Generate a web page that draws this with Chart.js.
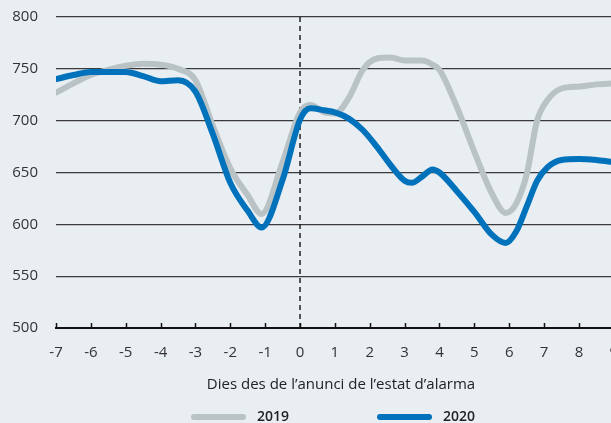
<!DOCTYPE html>
<html>
<head>
<meta charset="utf-8">
<script src="https://cdn.jsdelivr.net/npm/chart.js@4"></script>
<style>
  html, body { margin: 0; padding: 0; background: #e9eef3; overflow: hidden; }
  #wrap { width: 666px; height: 423px; }
</style>
</head>
<body>
<div id="wrap"><canvas id="chart" width="666" height="423"></canvas></div>
<script>
const days  = [-7, -6.5, -6, -5.5, -5, -4.5, -4, -3.5, -3, -2.5, -2, -1.5, -1.1, -0.5, 0, 0.3, 0.7, 1, 1.4, 1.8, 2.2, 2.6, 3, 3.2, 3.5, 3.8, 4, 4.5, 5, 5.5, 5.9, 6.2, 6.5, 6.8, 7.1, 7.5, 8, 8.5, 9, 9.5];
const v2019 = [727, 736, 744, 749, 753, 755, 754, 750, 739, 695, 654, 628, 610, 660, 708, 715, 708, 707, 722, 749, 760, 761, 758, 758, 758, 754, 749, 713, 670, 630, 611, 620, 648, 700, 720, 731, 733, 735, 736, 737];
const v2020 = [740, 744, 747, 747, 747, 743, 738, 739, 728, 687, 640, 613, 597, 643, 701, 712, 710, 708, 702, 691, 675, 657, 642, 640, 646, 653, 650, 632, 612, 590, 582, 593, 617, 642, 655, 662, 663, 662, 660, 659];
const seriesNames = ['2019', '2020'];
const yMin = 500, yMax = 800, yStep = 50;
const xMin = -7, xMax = 9.35;
const announceDay = 0;
const xTitle = 'Dies des de l’anunci de l’estat d’alarma';

const GREY = '#b9c2c5';
const BLUE = '#0072bb';
const FONT = '"Open Sans", "Noto Sans", sans-serif';

const toPoints = (vals) => days.map((d, i) => ({ x: d, y: vals[i] }));

// legend and upward tick marks, drawn by hand
const extras = {
    id: 'extras',
    afterDraw(chart) {
        const { ctx, chartArea } = chart;
        const x = chart.scales.x;
        ctx.save();
        ctx.strokeStyle = '#111';
        ctx.lineWidth = 1.5;
        x.ticks.forEach(t => {
            const px = Math.round(x.getPixelForValue(t.value)) + 0.5;
            ctx.beginPath();
            ctx.moveTo(px, chartArea.bottom);
            ctx.lineTo(px, chartArea.bottom - 5);
            ctx.stroke();
        });

        // legend
        const items = [chart.data.datasets[1], chart.data.datasets[0]];
        ctx.font = '600 14px ' + FONT;
        const lineLen = 55, gap = 11, itemGap = 88;
        const widths = items.map(d => ctx.measureText(d.label).width);
        const total = items.length * (lineLen + gap) + widths.reduce((a, b) => a + b, 0) + itemGap;
        let cx = chart.width / 2 - total / 2;
        const cy = 417;
        items.forEach((d, i) => {
            ctx.strokeStyle = d.borderColor;
            ctx.lineWidth = 6;
            ctx.lineCap = 'round';
            ctx.beginPath();
            ctx.moveTo(cx + 3, cy);
            ctx.lineTo(cx + lineLen - 3, cy);
            ctx.stroke();
            ctx.fillStyle = '#222';
            ctx.textBaseline = 'middle';
            ctx.fillText(d.label, cx + lineLen + gap, cy);
            cx += lineLen + gap + widths[i] + itemGap;
        });
        ctx.restore();
    }
};

new Chart(document.getElementById('chart'), {
    type: 'line',
    data: {
        datasets: [
            {
                label: seriesNames[1],
                data: toPoints(v2020),
                borderColor: BLUE,
                borderWidth: 6,
                pointRadius: 0,
                cubicInterpolationMode: 'monotone',
                borderCapStyle: 'round',
                order: 0
            },
            {
                label: seriesNames[0],
                data: toPoints(v2019),
                borderColor: GREY,
                borderWidth: 6,
                pointRadius: 0,
                cubicInterpolationMode: 'monotone',
                borderCapStyle: 'round',
                order: 1
            },
            {
                label: 'marker',
                data: [{ x: announceDay, y: yMin }, { x: announceDay, y: yMax }],
                borderColor: '#222',
                borderWidth: 1.5,
                borderDash: [5, 4],
                pointRadius: 0,
                order: 2
            }
        ]
    },
    options: {
        responsive: false,
        devicePixelRatio: 1,
        animation: false,
        layout: { padding: { top: 17, right: 40, bottom: 29, left: 0 } },
        plugins: {
            legend: { display: false },
            tooltip: { enabled: false }
        },
        scales: {
            x: {
                type: 'linear',
                min: xMin,
                max: xMax,
                ticks: {
                    stepSize: 1,
                    includeBounds: false,
                    padding: 16,
                    color: '#333',
                    font: { family: FONT, size: 15 }
                },
                grid: { display: false, drawTicks: false },
                border: { display: true, color: '#111', width: 2 },
                title: {
                    display: true,
                    text: xTitle,
                    color: '#222',
                    font: { family: FONT, size: 15 },
                    padding: { top: -2, bottom: 0 }
                }
            },
            y: {
                min: yMin,
                max: yMax,
                ticks: {
                    stepSize: yStep,
                    padding: 18,
                    color: '#333',
                    font: { family: FONT, size: 15 }
                },
                grid: {
                    drawTicks: false,
                    color: (c) => c.tick && c.tick.value === yMin ? 'rgba(0,0,0,0)' : '#3a3a3a',
                    lineWidth: 1.2
                },
                border: { display: false },
                afterFit: (scale) => {
                    scale.width = 56;
                    scale.paddingTop = 0;
                    scale.paddingBottom = 0;
                }
            }
        }
    },
    plugins: [extras]
});
</script>
</body>
</html>
